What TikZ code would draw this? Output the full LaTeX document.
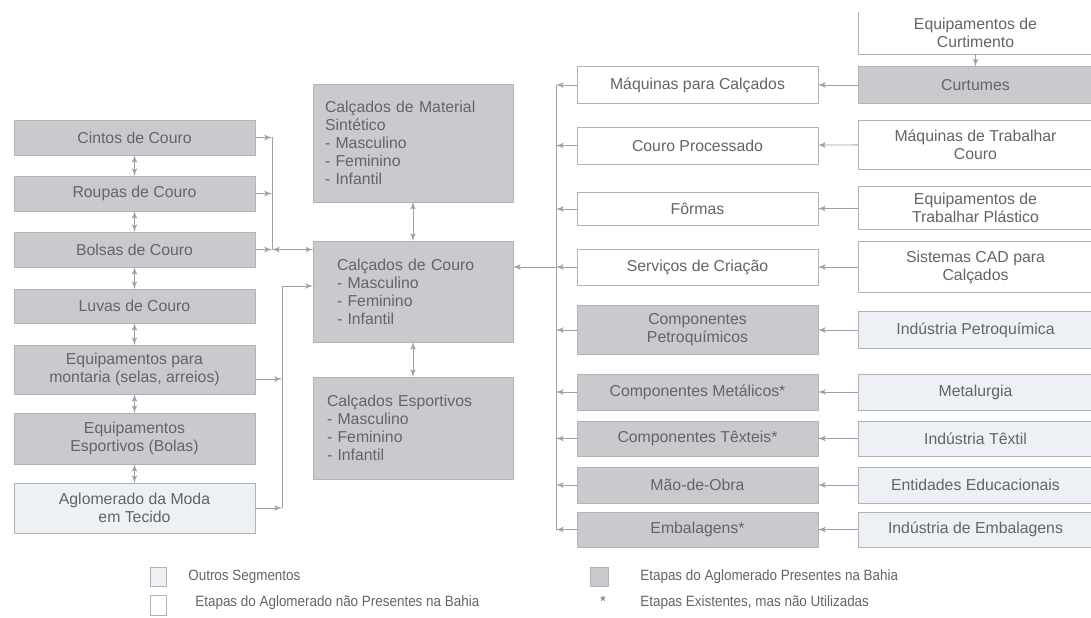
\documentclass[tikz,border=0pt]{standalone}
\usepackage{fontspec}
\setmainfont{Liberation Sans}
\usetikzlibrary{arrows}

\definecolor{boxgray}{RGB}{202,202,206}
\definecolor{boxline}{RGB}{178,178,183}
\definecolor{outros}{RGB}{237,240,244}
\definecolor{linegray}{RGB}{160,160,164}
\definecolor{textgray}{RGB}{100,100,104}

\begin{document}
\begin{tikzpicture}[x=0.02cm, y=-0.02cm]
	\tikzstyle{etapa} = [rectangle, draw=boxline, fill=boxgray, text centered, align=center, inner sep=0pt, outer sep=0pt, line width=0.5pt, text=textgray, font=\fontsize{9}{10.2}\selectfont]
	\tikzstyle{ausente} = [etapa, fill=white]
	\tikzstyle{outro} = [etapa, fill=outros]
	\tikzstyle{lcol} = [minimum width=4.82cm, minimum height=0.7cm]
	\tikzstyle{ccol} = [minimum width=4cm, align=left]
	\tikzstyle{rcol} = [minimum width=4.7cm, minimum height=0.72cm]
	\tikzstyle{legenda} = [anchor=west, inner sep=0pt, text=textgray, font=\fontsize{8.5}{10}\selectfont]
	\tikzstyle{connector} = [draw=linegray, line width=0.5pt, -latex']
	\tikzstyle{dconnector} = [draw=linegray, line width=0.5pt, latex'-latex']
\useasboundingbox (0,0) rectangle (1091,618);
\clip (0,0) rectangle (1091,618);
% outros produtos de couro
\node [etapa, lcol] at (134.5,137.5) (cintos) {Cintos de Couro};
\node [etapa, lcol] at (134.5,193.5) (roupas) {Roupas de Couro};
\node [etapa, lcol] at (134.5,249.5) (bolsas) {Bolsas de Couro};
\node [etapa, lcol, minimum height=0.68cm] at (134.5,306) (luvas) {Luvas de Couro};
\node [etapa, lcol, minimum height=0.98cm] at (134.5,369.5) (montaria) {Equipamentos para\\montaria (selas, arreios)};
\node [etapa, lcol, minimum height=1.02cm] at (134.5,438.5) (esportes) {Equipamentos\\Esportivos (Bolas)};
\node [outro, lcol, minimum height=1cm] at (134.5,508) (aglomerado) {Aglomerado da Moda\\em Tecido};
% calcados
\node [etapa, ccol, minimum height=2.36cm, text width=3.52cm] at (413,143) (sintetico) {Calçados de Material\\Sintético\\- Masculino\\- Feminino\\- Infantil};
\node [etapa, ccol, minimum height=2.02cm, text width=3.04cm] at (413,291.5) (calcouro) {Calçados de Couro\\- Masculino\\- Feminino\\- Infantil};
\node [etapa, ccol, minimum height=2.04cm, text width=3.44cm] at (413,428) (calesport) {Calçados Esportivos\\- Masculino\\- Feminino\\- Infantil};
% insumos
\node [ausente, lcol, minimum height=0.74cm] at (697.5,85) (maqcalc) {Máquinas para Calçados};
\node [ausente, lcol, minimum height=0.74cm] at (697.5,145.5) (couroproc) {Couro Processado};
\node [ausente, lcol, minimum height=0.66cm] at (697.5,209) (formas) {Fôrmas};
\node [ausente, lcol, minimum height=0.72cm] at (697.5,267) (servicos) {Serviços de Criação};
\node [etapa, lcol, minimum height=0.98cm] at (697.5,330) (petroq) {Componentes\\Petroquímicos};
\node [etapa, lcol, minimum height=0.72cm] at (697.5,392) (metalicos) {Componentes Metálicos*};
\node [etapa, lcol] at (697.5,438.5) (texteis) {Componentes Têxteis*};
\node [etapa, lcol, minimum height=0.72cm] at (697.5,485) (maoobra) {Mão-de-Obra};
\node [etapa, lcol] at (697.5,529.5) (embalagens) {Embalagens*};
% fornecedores
\node [ausente, rcol, draw=none, minimum height=0.84cm] at (975.5,33) (eqcurt) {Equipamentos de\\Curtimento};
\node [etapa, rcol, minimum height=0.74cm] at (975.5,85) (curtumes) {Curtumes};
\node [ausente, rcol, minimum height=0.98cm] at (975.5,144.5) (maqcouro) {Máquinas de Trabalhar\\Couro};
\node [ausente, rcol, minimum height=0.86cm] at (975.5,208) (eqplast) {Equipamentos de\\Trabalhar Plástico};
\node [ausente, rcol, minimum height=1.02cm] at (975.5,267) (cad) {Sistemas CAD para\\Calçados};
\node [outro, rcol, minimum height=0.74cm] at (975.5,330) (indpetroq) {Indústria Petroquímica};
\node [outro, rcol] at (975.5,392) (metalurgia) {Metalurgia};
\node [outro, rcol, minimum height=0.7cm] at (975.5,438.5) (indtextil) {Indústria Têxtil};
\node [outro, rcol] at (975.5,485) (entidades) {Entidades Educacionais};
\node [outro, rcol, minimum height=0.7cm] at (975.5,529.5) (indembal) {Indústria de Embalagens};
\draw [draw=boxline, line width=0.5pt] (eqcurt.north west) -- (eqcurt.south west) -- (eqcurt.south east);
% legenda
\node [outro, minimum width=0.32cm, minimum height=0.38cm] at (158,577) (legoutro) {};
\node [legenda] at (188,577) (txtoutro) {\scalebox{0.9}[1]{Outros Segmentos}};
\node [ausente, minimum width=0.32cm, minimum height=0.4cm] at (158,605) (legausente) {};
\node [legenda] at (195,603) (txtausente) {\scalebox{0.9}[1]{Etapas do Aglomerado não Presentes na Bahia}};
\node [etapa, minimum width=0.36cm, minimum height=0.38cm] at (599,577) (legetapa) {};
\node [legenda] at (640,577) (txtetapa) {\scalebox{0.9}[1]{Etapas do Aglomerado Presentes na Bahia}};
\node [legenda, anchor=center] at (603,601) (legast) {*};
\node [legenda] at (640,603) (txtast) {\scalebox{0.9}[1]{Etapas Existentes, mas não Utilizadas}};
% ligacoes
\coordinate (lbus) at (272,137.5);
\coordinate (lbus2) at (282,286);
\coordinate (rbus) at (556,85);
\foreach \a/\b in {cintos/roupas, roupas/bolsas, bolsas/luvas, luvas/montaria, montaria/esportes, esportes/aglomerado, sintetico/calcouro, calcouro/calesport}
	\path [dconnector] (\a) -- (\b);
\foreach \n in {cintos, roupas, bolsas}
	\path [connector] (\n.east) -- (\n.east -| lbus);
\draw [draw=linegray, line width=0.5pt] (cintos.east -| lbus) -- (bolsas.east -| lbus);
\path [dconnector] (bolsas.east -| lbus) -- (calcouro.west |- bolsas.east);
\draw [draw=linegray, line width=0.5pt] (lbus2) -- (lbus2 |- aglomerado.east);
\path [connector] (lbus2) -- (calcouro.west |- lbus2);
\path [connector] ([yshift=-0.19cm]montaria.east) -- ([yshift=-0.19cm]montaria.east -| lbus2);
\path [connector] (aglomerado.east) -- (aglomerado.east -| lbus2);
\foreach \n in {maqcalc, couroproc, formas, servicos, petroq, metalicos, texteis, maoobra, embalagens}
	\path [connector] (\n.west) -- (\n.west -| rbus);
\draw [draw=linegray, line width=0.5pt] (rbus) -- (embalagens.west -| rbus);
\path [connector] (servicos.west -| rbus) -- (calcouro.east |- servicos.west);
\foreach \a/\b in {curtumes/maqcalc, maqcouro/couroproc, eqplast/formas, cad/servicos, indpetroq/petroq, metalurgia/metalicos, indtextil/texteis, entidades/maoobra, indembal/embalagens}
	\path [connector] (\a) -- (\b);
\path [connector] (eqcurt) -- (curtumes);
\end{tikzpicture}
\end{document}
